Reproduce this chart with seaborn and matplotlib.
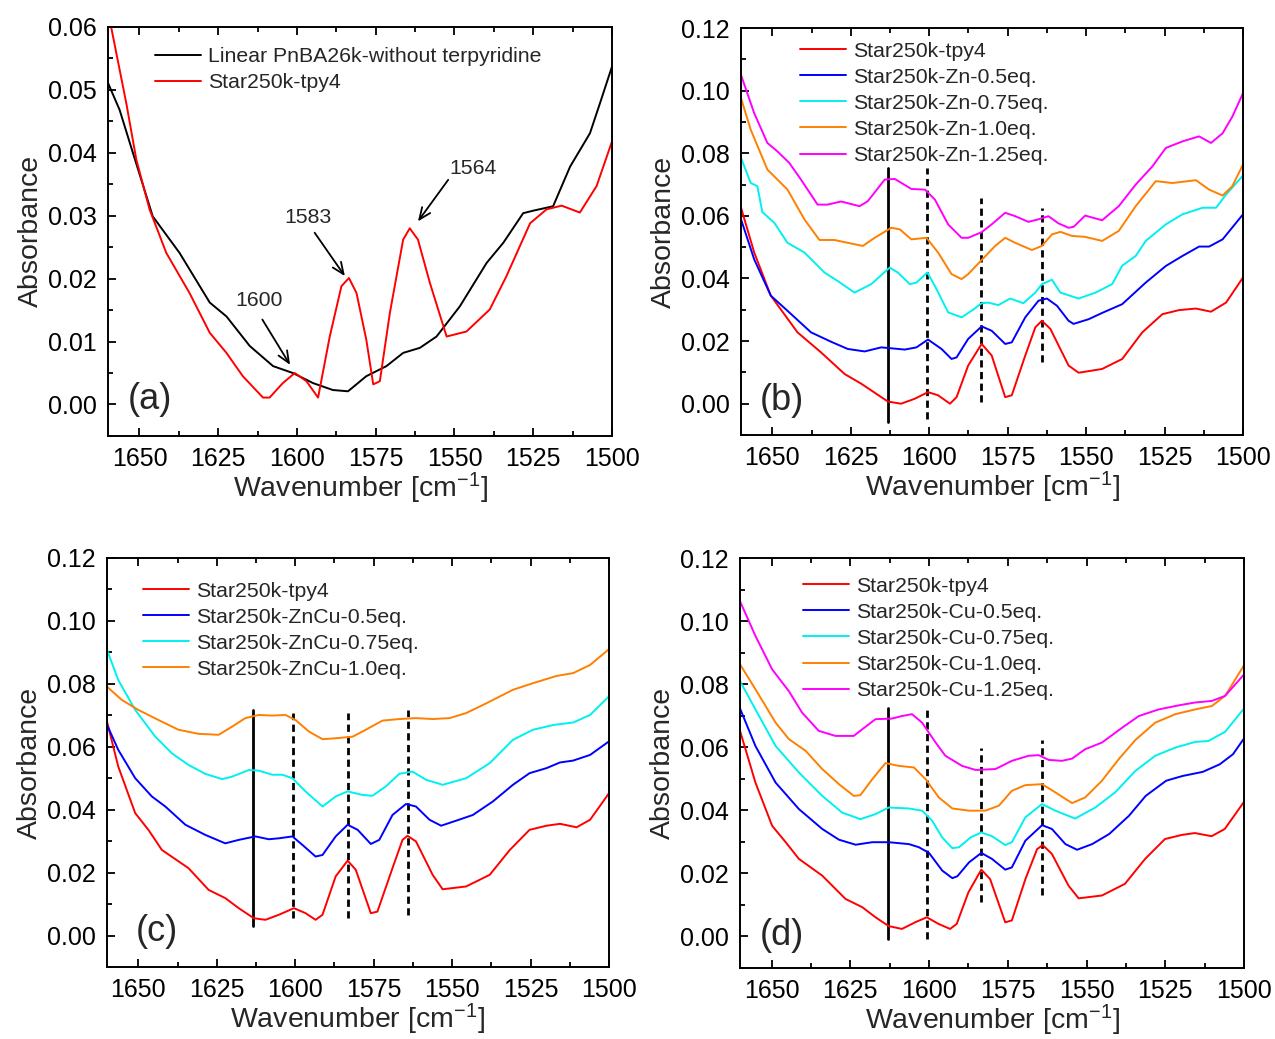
import numpy as np
import pandas as pd
import matplotlib
matplotlib.use("Agg")
import matplotlib.pyplot as plt
from matplotlib.ticker import MultipleLocator, FormatStrFormatter
import seaborn as sns

sns.set_theme(style="ticks")
plt.rcParams["font.family"] = ["Liberation Sans", "DejaVu Sans"]
plt.rcParams["mathtext.fontset"] = "custom"
plt.rcParams["mathtext.rm"] = "Liberation Sans"
plt.rcParams["mathtext.it"] = "Liberation Sans:italic"

RED, BLUE, CYAN, ORANGE, MAGENTA = "#ff0000", "#0000ff", "#00f0f0", "#ff8000", "#ff00ff"

# ---------------- panel (a) ----------------
a_lin_x = [1660, 1656.3, 1652.1, 1645.8, 1637.3, 1627.7, 1622.4, 1615, 1607.6, 1601.3, 1594.9,
           1588.6, 1583.8, 1578, 1571.6, 1566.3, 1561, 1555.7, 1548.3, 1539.8, 1534.5, 1528.2,
           1525, 1518.7, 1513.3, 1507, 1503.8, 1500]
a_lin_y = [0.0511, 0.0468, 0.0400, 0.0299, 0.0241, 0.0162, 0.0140, 0.0093, 0.0061, 0.0050, 0.0034,
           0.0023, 0.0021, 0.0045, 0.0061, 0.0082, 0.0090, 0.0108, 0.0156, 0.0225, 0.0257, 0.0304,
           0.0308, 0.0315, 0.0378, 0.0431, 0.0479, 0.0537]
a_tpy_x = [1660, 1654.2, 1651, 1646.8, 1641.5, 1634.1, 1627.7, 1622.4, 1617.2, 1610.8, 1608.7,
           1604.5, 1600.7, 1597, 1593.3, 1589.6, 1585.9, 1583.5, 1581.1, 1578, 1575.8, 1573.7,
           1570.5, 1566.3, 1564.2, 1561.6, 1557.8, 1552.5, 1546.2, 1538.8, 1533.5, 1526, 1520.8,
           1516, 1510.2, 1504.9, 1500]
a_tpy_y = [0.0625, 0.0479, 0.0389, 0.0310, 0.0241, 0.0177, 0.0114, 0.0082, 0.0045, 0.0011, 0.0011,
           0.0034, 0.0050, 0.0037, 0.0011, 0.0108, 0.0188, 0.0201, 0.0177, 0.0103, 0.0032, 0.0037,
           0.0146, 0.0262, 0.0280, 0.0262, 0.0193, 0.0108, 0.0116, 0.0151, 0.0204, 0.0288, 0.0310,
           0.0316, 0.0305, 0.0347, 0.0418]
a_labels = ["Linear PnBA26k-without terpyridine", "Star250k-tpy4"]

# peak annotations: label, text position, arrow start, arrow tip
peak_names = ["1600", "1583", "1564"]
peak_text_xy = [(1612.2, 0.0165), (1596.6, 0.0297), (1544.2, 0.0375)]
peak_arrow_from = [(1611.0, 0.0135), (1594.4, 0.0273), (1552.0, 0.0357)]
peak_arrow_to = [(1602.2, 0.0063), (1584.8, 0.0204), (1561.6, 0.0291)]

# ---------------- panel (b) ----------------
b_tpy_x = [1660, 1655.8, 1650.5, 1642, 1634.5, 1627, 1621.7, 1613.2, 1609, 1604.6, 1600.4, 1597.2,
           1593.4, 1591.3, 1587.6, 1583.3, 1580.1, 1575.8, 1573.7, 1569.4, 1566.2, 1564.1, 1561.4,
           1555.6, 1552.4, 1544.9, 1538.5, 1532.1, 1525.7, 1520.4, 1515, 1510.2, 1505.4, 1500]
b_tpy_y = [0.0626, 0.0483, 0.0345, 0.0228, 0.0164, 0.0095, 0.0064, 0.0007, 0.0000, 0.0016, 0.0037,
           0.0027, 0.0000, 0.0021, 0.0122, 0.0191, 0.0154, 0.0021, 0.0027, 0.0154, 0.0244, 0.0265,
           0.0239, 0.0122, 0.0099, 0.0111, 0.0143, 0.0228, 0.0286, 0.0299, 0.0304, 0.0294, 0.0323,
           0.0403]
b_zn05_x = [1660, 1655.8, 1650.5, 1645.2, 1637.7, 1631.3, 1626, 1620.6, 1615.3, 1607.8, 1604.1,
            1600.4, 1596.1, 1592.9, 1591.3, 1587.6, 1583.3, 1580.1, 1575.8, 1573.7, 1569.4, 1565.2,
            1562.5, 1559.3, 1555.6, 1554, 1549.2, 1544.9, 1538.5, 1531, 1524.6, 1519.3, 1514,
            1510.8, 1506.5, 1500]
b_zn05_y = [0.0589, 0.0461, 0.0345, 0.0297, 0.0228, 0.0198, 0.0175, 0.0167, 0.0180, 0.0173, 0.0180,
            0.0205, 0.0175, 0.0143, 0.0148, 0.0207, 0.0247, 0.0233, 0.0191, 0.0196, 0.0276, 0.0329,
            0.0336, 0.0313, 0.0265, 0.0255, 0.0270, 0.0290, 0.0318, 0.0387, 0.0440, 0.0472, 0.0502,
            0.0502, 0.0525, 0.0605]
b_zn075_x = [1660, 1656.9, 1654.8, 1653.2, 1649.4, 1645.2, 1639.8, 1633.4, 1629.2, 1623.8, 1618.5,
             1612.6, 1610, 1606.2, 1604.1, 1600.6, 1598.2, 1594, 1589.7, 1586.5, 1583.3, 1581.2,
             1578, 1574.2, 1570, 1566.2, 1564.1, 1560.9, 1558.2, 1552.4, 1547, 1541.7, 1538.5,
             1534.2, 1531, 1524.6, 1519.3, 1512.9, 1508.6, 1505.4, 1500]
b_zn075_y = [0.0785, 0.0705, 0.0695, 0.0612, 0.0578, 0.0514, 0.0483, 0.0419, 0.0392, 0.0355, 0.0382,
             0.0435, 0.0419, 0.0382, 0.0387, 0.0419, 0.0376, 0.0292, 0.0276, 0.0297, 0.0321, 0.0323,
             0.0315, 0.0336, 0.0321, 0.0355, 0.0382, 0.0396, 0.0355, 0.0336, 0.0355, 0.0382, 0.0441,
             0.0472, 0.0520, 0.0573, 0.0605, 0.0626, 0.0626, 0.0668, 0.0729]
b_zn10_x = [1660, 1656.9, 1651.6, 1645.2, 1639.8, 1635, 1630.2, 1626, 1621.2, 1617.4, 1612.1,
            1609.4, 1605.7, 1600.9, 1597.2, 1592.9, 1589.7, 1587.6, 1583.3, 1579, 1575.8, 1572.6,
            1567.3, 1564.1, 1560.9, 1558.2, 1554.5, 1550.3, 1544.9, 1539.6, 1534.2, 1527.8,
            1522.5, 1515, 1510.8, 1506.5, 1503.4, 1500]
b_zn10_y = [0.0976, 0.0875, 0.0748, 0.0684, 0.0589, 0.0523, 0.0523, 0.0514, 0.0504, 0.0530, 0.0562,
            0.0557, 0.0525, 0.0530, 0.0483, 0.0414, 0.0398, 0.0414, 0.0459, 0.0504, 0.0530, 0.0514,
            0.0491, 0.0504, 0.0541, 0.0549, 0.0536, 0.0533, 0.0520, 0.0552, 0.0631, 0.0711,
            0.0705, 0.0714, 0.0684, 0.0665, 0.0695, 0.0764]
b_zn125_x = [1660, 1655.8, 1651.6, 1648.4, 1644.6, 1640.9, 1635.6, 1632.4, 1628.1, 1622.2, 1619.6,
             1614.2, 1611, 1605.7, 1601.4, 1598.2, 1594, 1589.7, 1587.6, 1583.3, 1580.1, 1575.8,
             1572.6, 1568.4, 1565.2, 1562, 1558.8, 1555.6, 1554, 1550.3, 1544.9, 1539.6, 1534.2,
             1528.9, 1524.6, 1519.3, 1514, 1510.2, 1506.5, 1503.4, 1500]
b_zn125_y = [0.1050, 0.0928, 0.0833, 0.0806, 0.0769, 0.0716, 0.0636, 0.0636, 0.0646, 0.0631, 0.0647,
             0.0716, 0.0718, 0.0686, 0.0684, 0.0652, 0.0573, 0.0530, 0.0530, 0.0548, 0.0573, 0.0610,
             0.0599, 0.0581, 0.0589, 0.0599, 0.0576, 0.0562, 0.0565, 0.0601, 0.0586, 0.0631, 0.0700,
             0.0758, 0.0817, 0.0838, 0.0854, 0.0833, 0.0864, 0.0917, 0.0992]
b_labels = ["Star250k-tpy4", "Star250k-Zn-0.5eq.", "Star250k-Zn-0.75eq.",
            "Star250k-Zn-1.0eq.", "Star250k-Zn-1.25eq."]

# ---------------- panel (c) ----------------
c_tpy_x = [1660, 1656.4, 1651, 1646.8, 1642.5, 1634, 1627.6, 1622.3, 1618, 1613.2, 1609.5, 1605.2,
           1600.4, 1596.7, 1593.5, 1591.3, 1587.1, 1583.3, 1580.7, 1575.9, 1573.8, 1569, 1565.8,
           1564.2, 1561.5, 1556.2, 1553, 1545.5, 1538, 1531.6, 1525.3, 1519.9, 1515.6, 1510.3,
           1506, 1500]
c_tpy_y = [0.0680, 0.0537, 0.0389, 0.0336, 0.0272, 0.0214, 0.0145, 0.0119, 0.0087, 0.0055, 0.0050,
           0.0066, 0.0087, 0.0071, 0.0050, 0.0066, 0.0188, 0.0238, 0.0209, 0.0071, 0.0076, 0.0214,
           0.0304, 0.0317, 0.0299, 0.0193, 0.0147, 0.0156, 0.0193, 0.0272, 0.0336, 0.0349, 0.0355,
           0.0344, 0.0368, 0.0452]
c_zc05_x = [1660, 1656.4, 1651, 1645.7, 1641.4, 1635, 1628.7, 1622.3, 1618, 1612.7, 1608.4, 1605.2,
            1600.9, 1597.7, 1593.5, 1591.3, 1587.1, 1583.3, 1580.1, 1575.9, 1573.2, 1569, 1564.7,
            1561.5, 1557.2, 1553.5, 1548.7, 1543.4, 1537, 1530.6, 1525.3, 1519.9, 1515.6, 1511.4,
            1506, 1500]
c_zc05_y = [0.0670, 0.0590, 0.0500, 0.0442, 0.0410, 0.0352, 0.0320, 0.0293, 0.0304, 0.0315, 0.0306,
            0.0309, 0.0315, 0.0288, 0.0251, 0.0256, 0.0315, 0.0352, 0.0336, 0.0291, 0.0304, 0.0383,
            0.0418, 0.0410, 0.0368, 0.0349, 0.0365, 0.0383, 0.0426, 0.0479, 0.0516, 0.0532, 0.0550,
            0.0556, 0.0574, 0.0617]
c_zc075_x = [1660, 1656.4, 1651, 1644.6, 1639.3, 1634, 1628.7, 1623.3, 1620.1, 1614.8, 1611.6,
             1607.3, 1604.1, 1600.9, 1596.7, 1591.3, 1587.1, 1583.3, 1578.6, 1575.4, 1571.1,
             1566.8, 1562.6, 1558.3, 1553, 1545.5, 1538, 1530.6, 1524.2, 1517.8, 1511.4, 1506, 1500]
c_zc075_y = [0.0908, 0.0812, 0.0717, 0.0632, 0.0579, 0.0542, 0.0514, 0.0497, 0.0505, 0.0526, 0.0524,
             0.0511, 0.0511, 0.0500, 0.0458, 0.0410, 0.0442, 0.0458, 0.0447, 0.0444, 0.0474,
             0.0514, 0.0521, 0.0495, 0.0479, 0.0500, 0.0548, 0.0622, 0.0654, 0.0669, 0.0677, 0.0701,
             0.0760]
c_zc10_x = [1660, 1655.3, 1650, 1643.6, 1637.2, 1630.8, 1624.4, 1620.1, 1615.9, 1611.6, 1607.3,
            1603.1, 1599.9, 1595.6, 1591.3, 1587.1, 1581.7, 1577.5, 1572.2, 1566.8, 1561.5, 1556.2,
            1550.8, 1545.5, 1539.1, 1530.6, 1524.2, 1516.7, 1511.4, 1506, 1500]
c_zc10_y = [0.0791, 0.0749, 0.0717, 0.0685, 0.0654, 0.0641, 0.0638, 0.0664, 0.0691, 0.0701, 0.0699,
            0.0701, 0.0685, 0.0648, 0.0624, 0.0627, 0.0632, 0.0654, 0.0683, 0.0688, 0.0691, 0.0688,
            0.0691, 0.0707, 0.0738, 0.0781, 0.0802, 0.0825, 0.0834, 0.0860, 0.0910]
c_labels = ["Star250k-tpy4", "Star250k-ZnCu-0.5eq.", "Star250k-ZnCu-0.75eq.", "Star250k-ZnCu-1.0eq."]

# ---------------- panel (d) ----------------
d_tpy_x = [1660, 1655.1, 1649.8, 1645.5, 1641.3, 1633.9, 1626.5, 1621.2, 1617, 1612.8, 1608.6,
           1604.4, 1600.7, 1597, 1593.3, 1591.2, 1587.5, 1583.4, 1580.6, 1575.8, 1573.7, 1569.4,
           1565.7, 1563.9, 1561, 1555.7, 1552.5, 1545.1, 1537.8, 1531.4, 1525.1, 1519.8, 1515.6,
           1510.3, 1506.1, 1500]
d_tpy_y = [0.0652, 0.0488, 0.0351, 0.0299, 0.0246, 0.0193, 0.0119, 0.0093, 0.0061, 0.0033, 0.0024,
           0.0045, 0.0061, 0.0040, 0.0024, 0.0040, 0.0140, 0.0212, 0.0182, 0.0045, 0.0051, 0.0182,
           0.0277, 0.0290, 0.0262, 0.0161, 0.0121, 0.0130, 0.0167, 0.0246, 0.0309, 0.0322, 0.0328,
           0.0318, 0.0341, 0.0427]
d_cu05_x = [1660, 1655.1, 1648.7, 1641.3, 1633.9, 1628.6, 1623.3, 1618, 1612.8, 1606.4, 1603.2,
            1600, 1595.8, 1592.6, 1591, 1587.3, 1583.4, 1580, 1575.8, 1573.7, 1569.4, 1564.1, 1561,
            1556.7, 1553, 1548.2, 1542.8, 1536.5, 1531.2, 1524.7, 1519.5, 1513.1, 1507.7, 1503.5,
            1500]
d_cu05_y = [0.0723, 0.0604, 0.0488, 0.0404, 0.0341, 0.0307, 0.0291, 0.0299, 0.0299, 0.0293, 0.0283,
            0.0265, 0.0209, 0.0185, 0.0191, 0.0235, 0.0265, 0.0246, 0.0212, 0.0219, 0.0304, 0.0353,
            0.0341, 0.0293, 0.0275, 0.0293, 0.0325, 0.0383, 0.0446, 0.0494, 0.0509, 0.0522, 0.0546,
            0.0578, 0.0628]
d_cu075_x = [1660, 1655.1, 1648.7, 1641.3, 1633.9, 1627.6, 1621.8, 1617, 1612.8, 1606.4, 1602.2,
             1599, 1595.8, 1592.6, 1590.5, 1586.8, 1583.4, 1580, 1575.8, 1573.7, 1569.4, 1564.1,
             1559.9, 1553.6, 1547.2, 1540.9, 1534.5, 1528.2, 1521.8, 1515.5, 1511.3, 1506, 1500]
d_cu075_y = [0.0810, 0.0720, 0.0604, 0.0520, 0.0446, 0.0393, 0.0372, 0.0388, 0.0409, 0.0406, 0.0399,
             0.0367, 0.0314, 0.0280, 0.0283, 0.0314, 0.0330, 0.0318, 0.0290, 0.0299, 0.0378, 0.0420,
             0.0399, 0.0374, 0.0409, 0.0457, 0.0525, 0.0573, 0.0599, 0.0617, 0.0620, 0.0649, 0.0723]
d_cu10_x = [1660, 1655.1, 1648.7, 1644.5, 1639.2, 1633.9, 1628.6, 1623.9, 1621.8, 1618, 1613.8,
            1609.6, 1604.8, 1601.1, 1596.9, 1592.6, 1587.3, 1582.1, 1577.8, 1573.7, 1569.4, 1564.1,
            1559.9, 1554.6, 1550.4, 1545.1, 1539.8, 1534.5, 1528.2, 1521.8, 1515.5, 1510.2, 1506,
            1500]
d_cu10_y = [0.0863, 0.0784, 0.0678, 0.0626, 0.0589, 0.0531, 0.0483, 0.0446, 0.0448, 0.0499, 0.0550,
            0.0541, 0.0536, 0.0499, 0.0441, 0.0406, 0.0399, 0.0399, 0.0415, 0.0462, 0.0480, 0.0483,
            0.0457, 0.0423, 0.0441, 0.0494, 0.0562, 0.0623, 0.0678, 0.0705, 0.0720, 0.0731, 0.0763,
            0.0860]
d_cu125_x = [1660, 1655.1, 1649.8, 1644.5, 1640.3, 1635, 1629.7, 1623.9, 1621.2, 1617, 1611.8,
             1608.6, 1605.4, 1602.2, 1597.9, 1594.8, 1589.5, 1585.2, 1578.9, 1573.7, 1568.4, 1565.2,
             1562, 1557.8, 1554.6, 1550.4, 1545.1, 1538.7, 1533.4, 1527.1, 1520.7, 1515.5, 1510.2,
             1506, 1500]
d_cu125_y = [0.1063, 0.0953, 0.0847, 0.0778, 0.0710, 0.0652, 0.0636, 0.0636, 0.0657, 0.0689, 0.0691,
             0.0699, 0.0705, 0.0678, 0.0615, 0.0573, 0.0541, 0.0528, 0.0531, 0.0557, 0.0573, 0.0575,
             0.0560, 0.0557, 0.0564, 0.0594, 0.0615, 0.0662, 0.0699, 0.0720, 0.0733, 0.0742, 0.0747,
             0.0763, 0.0831]
d_labels = ["Star250k-tpy4", "Star250k-Cu-0.5eq.", "Star250k-Cu-0.75eq.",
            "Star250k-Cu-1.0eq.", "Star250k-Cu-1.25eq."]

# guide lines at the terpyridine bands: (wavenumber, y from, y to, solid?)
guides_b = [(1613, -0.0058, 0.0753, True), (1600.6, -0.0048, 0.0753, False),
            (1583.4, 0.0005, 0.0658, False), (1564.1, 0.0133, 0.0626, False)]
guides_c = [(1613.3, 0.0029, 0.0717, True), (1600.6, 0.0055, 0.0707, False),
            (1583.3, 0.0055, 0.0707, False), (1564.2, 0.0066, 0.0717, False)]
guides_d = [(1613.1, -0.0007, 0.0726, True), (1600.6, -0.0007, 0.0720, False),
            (1583.4, 0.0109, 0.0599, False), (1564.0, 0.0130, 0.0623, False)]

fig = plt.figure(figsize=(12.75, 10.39), dpi=100)
ax_a = fig.add_axes([0.0847, 0.5804, 0.3953, 0.3937])
ax_b = fig.add_axes([0.5812, 0.5813, 0.3937, 0.3917])
ax_c = fig.add_axes([0.0839, 0.0693, 0.3937, 0.3937])
ax_d = fig.add_axes([0.5804, 0.0683, 0.3953, 0.3946])

LW = 1.4


def draw_series(ax, xs, ys, colors, labels):
    for x, y, col, lab in zip(xs, ys, colors, labels):
        df = pd.DataFrame({"Wavenumber": x, "Absorbance": y})
        sns.lineplot(data=df, x="Wavenumber", y="Absorbance", ax=ax, color=col, label=lab,
                     lw=LW, estimator=None, sort=False)


def draw_guides(ax, guides):
    for xg, y0, y1, solid in guides:
        ax.plot([xg, xg], [y0, y1], color="black", lw=2.0,
                ls="-" if solid else (0, (2.6, 1.6)), zorder=1)


def style_axes(ax, ymax, ymin, ymajor, yminor, letter, leg_anchor, letter_xy):
    ax.set_xlim(1660, 1500)
    ax.set_ylim(ymin, ymax)
    ax.xaxis.set_major_locator(MultipleLocator(25))
    ax.xaxis.set_minor_locator(MultipleLocator(12.5))
    ax.yaxis.set_major_locator(MultipleLocator(ymajor))
    ax.yaxis.set_minor_locator(MultipleLocator(yminor))
    ax.yaxis.set_major_formatter(FormatStrFormatter("%.2f"))
    ax.tick_params(which="both", direction="in", top=True, right=False, width=1.3, colors="black")
    ax.tick_params(which="major", length=6, labelsize=18, pad=8)
    ax.tick_params(which="minor", length=3.5)
    for s in ax.spines.values():
        s.set_visible(True)
        s.set_linewidth(1.4)
        s.set_color("black")
    ax.set_facecolor("white")
    ax.set_xlabel("Wavenumber [cm$^{-1}$]", fontsize=20.5, labelpad=0)
    ax.set_ylabel("Absorbance", fontsize=20.5, labelpad=3)
    ax.text(letter_xy[0], letter_xy[1], letter, transform=ax.transAxes, fontsize=26,
            ha="center", va="center")
    leg = ax.legend(loc="upper left", bbox_to_anchor=leg_anchor, frameon=False, fontsize=15.3,
                    handlelength=2.15, handletextpad=0.35, labelspacing=0.33, borderpad=0,
                    borderaxespad=0)
    for h in leg.get_lines():
        h.set_linewidth(LW)


# (a)
draw_series(ax_a, [a_lin_x, a_tpy_x], [a_lin_y, a_tpy_y], ["black", RED], a_labels)
for name, txy, p0, p1 in zip(peak_names, peak_text_xy, peak_arrow_from, peak_arrow_to):
    ax_a.text(txy[0], txy[1], name, fontsize=15.3, ha="center", va="center")
    ax_a.annotate("", xy=p1, xytext=p0,
                  arrowprops=dict(arrowstyle="->,head_length=0.7,head_width=0.3", lw=1.3,
                                  color="black", shrinkA=0, shrinkB=0))
style_axes(ax_a, 0.06, -0.005, 0.01, 0.005, "(a)", (0.093, 0.950), (0.083, 0.088))

# (b)
draw_guides(ax_b, guides_b)
draw_series(ax_b, [b_tpy_x, b_zn05_x, b_zn075_x, b_zn10_x, b_zn125_x],
            [b_tpy_y, b_zn05_y, b_zn075_y, b_zn10_y, b_zn125_y],
            [RED, BLUE, CYAN, ORANGE, MAGENTA], b_labels)
style_axes(ax_b, 0.12, -0.01, 0.02, 0.01, "(b)", (0.1175, 0.966), (0.082, 0.086))

# (c)
draw_guides(ax_c, guides_c)
draw_series(ax_c, [c_tpy_x, c_zc05_x, c_zc075_x, c_zc10_x],
            [c_tpy_y, c_zc05_y, c_zc075_y, c_zc10_y],
            [RED, BLUE, CYAN, ORANGE], c_labels)
style_axes(ax_c, 0.12, -0.01, 0.02, 0.01, "(c)", (0.0717, 0.942), (0.10, 0.086))

# (d)
draw_guides(ax_d, guides_d)
draw_series(ax_d, [d_tpy_x, d_cu05_x, d_cu075_x, d_cu10_x, d_cu125_x],
            [d_tpy_y, d_cu05_y, d_cu075_y, d_cu10_y, d_cu125_y],
            [RED, BLUE, CYAN, ORANGE, MAGENTA], d_labels)
style_axes(ax_d, 0.12, -0.01, 0.02, 0.01, "(d)", (0.125, 0.954), (0.083, 0.080))

fig.savefig("out.png", dpi=100, facecolor="white")
